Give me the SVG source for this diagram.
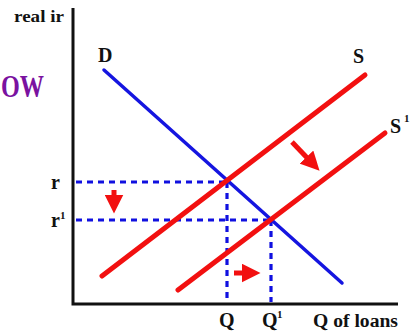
<svg xmlns="http://www.w3.org/2000/svg" width="417" height="336" viewBox="0 0 417 336">
<defs>
<style>
.lbl{font-family:"Liberation Serif","Times New Roman",serif;font-weight:bold;fill:#111;}
.sup{font-family:"Liberation Serif","Times New Roman",serif;font-weight:bold;fill:#111;font-size:11px;}
.axis{stroke:#111;stroke-width:3;fill:none;}
.dash{stroke:#1010e0;stroke-width:3.2;stroke-dasharray:6,5;fill:none;}
.sup-line{stroke:#f21010;stroke-width:5;stroke-linecap:round;fill:none;}
.dem{stroke:#1515e0;stroke-width:3.5;stroke-linecap:round;fill:none;}
.arr{stroke:#f21010;stroke-width:5;fill:none;}
</style>
<marker id="ah" viewBox="0 0 10 10" refX="5" refY="5" markerWidth="3.8" markerHeight="3.8" orient="auto" markerUnits="strokeWidth">
<path d="M0,0 L10,5 L0,10 Z" fill="#f21010"/>
</marker>
</defs>
<rect width="417" height="336" fill="#ffffff"/>
<text x="1" y="97" font-family="Liberation Serif, serif" font-weight="bold" font-size="31" fill="#7a12a0" textLength="43" lengthAdjust="spacingAndGlyphs">OW</text>
<g id="axes">
<path class="axis" d="M73,8 V304 H398"/>
<text class="lbl" x="14" y="22" font-size="17" textLength="50" lengthAdjust="spacingAndGlyphs">real ir</text>
<text class="lbl" x="313" y="327" font-size="18" textLength="85" lengthAdjust="spacingAndGlyphs">Q of loans</text>
</g>
<g id="connectors">
<path class="dash" d="M76,182 H228"/>
<path class="dash" d="M76,220 H270"/>
<path class="dash" d="M227,182 V302"/>
<path class="dash" d="M271,220 V302"/>
<path class="arr" d="M114,190 V204" marker-end="url(#ah)"/>
<path class="arr" d="M234,273 H251" marker-end="url(#ah)"/>
<path class="arr" d="M292,142 L313,164" marker-end="url(#ah)"/>
</g>
<g id="demand">
<path class="dem" d="M104,70 L342,283"/>
<text class="lbl" x="98" y="62" font-size="20">D</text>
</g>
<g id="supply">
<path class="sup-line" d="M102,276 L365,75"/>
<text class="lbl" x="353" y="63" font-size="20">S</text>
</g>
<g id="supply1">
<path class="sup-line" d="M178,290 L385,133"/>
<text class="lbl" x="390" y="133" font-size="20">S</text>
<text class="sup" x="404" y="122">1</text>
</g>
<g id="r-label">
<text class="lbl" x="51" y="189" font-size="20">r</text>
</g>
<g id="r1-label">
<text class="lbl" x="51" y="227" font-size="20">r</text>
<text class="sup" x="60" y="219">1</text>
</g>
<g id="q-label">
<text class="lbl" x="219" y="327" font-size="20">Q</text>
</g>
<g id="q1-label">
<text class="lbl" x="262" y="327" font-size="20">Q</text>
<text class="sup" x="277" y="318">1</text>
</g>
</svg>
